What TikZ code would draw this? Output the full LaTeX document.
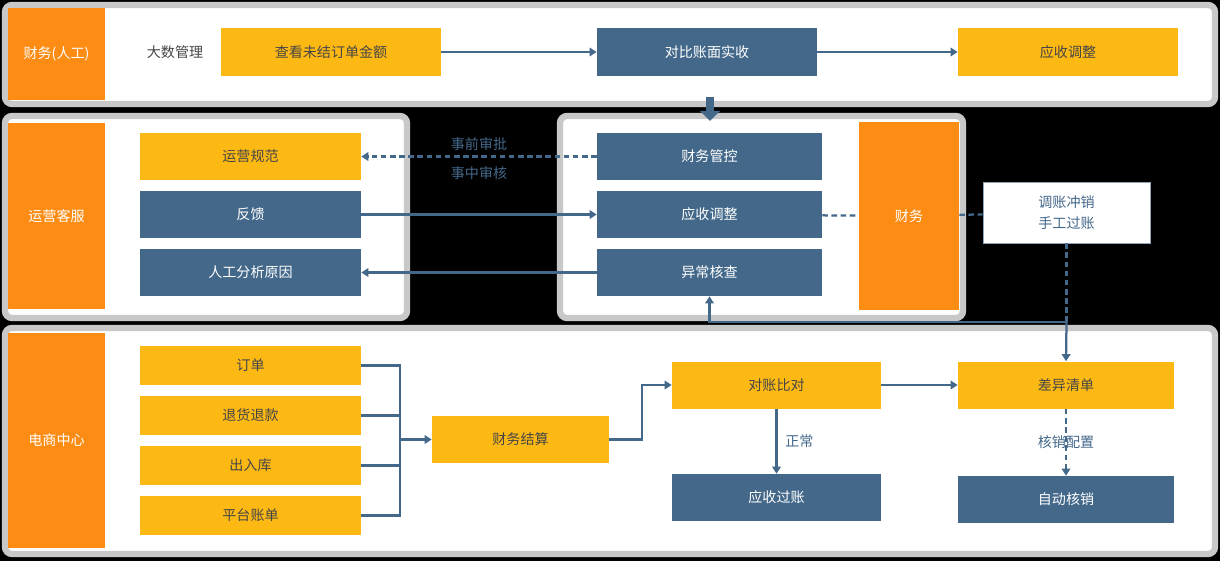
\documentclass[tikz,border=0pt]{standalone}
\usepackage{fontspec}
\setmainfont{Noto Sans CJK SC}
\usetikzlibrary{arrows.meta,calc}
\definecolor{cOra}{RGB}{253,140,20}
\definecolor{cYel}{RGB}{253,185,19}
\definecolor{cBlu}{RGB}{67,104,138}
\definecolor{cTxt}{RGB}{70,70,70}
\definecolor{cRim}{RGB}{200,200,200}

\begin{document}
\begin{tikzpicture}[x=0.025cm,y=-0.025cm,font=\fontsize{10}{15}\selectfont,
  panel/.style={draw=cRim,line width=4.5pt,fill=white,rounded corners=5pt},
  side/.style={fill=cOra,text=white,inner sep=0pt,minimum width=2.425cm},
  ybox/.style={fill=cYel,text=cTxt,inner sep=0pt,minimum width=5.525cm,minimum height=1.175cm},
  bbox/.style={fill=cBlu,text=white,inner sep=0pt,minimum width=5.525cm,minimum height=1.175cm},
  line/.style={cBlu,line width=1.6pt},
  flow/.style={line,-{Triangle[length=5pt,width=6pt]}},
  dline/.style={line,dash pattern=on 4pt off 2.5pt},
  dflow/.style={flow,dash pattern=on 4pt off 2.5pt},
  fat/.style={cBlu,line width=5pt,-{Triangle[length=7pt,width=14pt]}},
  lab/.style={text=cBlu,inner sep=1.5pt}]

\fill[black] (0,0) rectangle (1220,561);

% Finance (manual)
\draw[panel] (5,5) rectangle (1215,104);
\node[side,minimum height=2.3cm] (fin) at (56.5,54) {财务(人工)};
\node[text=cTxt] (dsg) at (175,52) {大数管理};
\node[ybox,minimum width=5.5cm] (ck) at (331,52) {查看未结订单金额};
\node[bbox,minimum width=5.5cm] (db) at (707,52) {对比账面实收};
\node[ybox,minimum width=5.5cm] (ys) at (1068,52) {应收调整};
\draw[flow] (ck) -- (db);
\draw[flow] (db) -- (ys);

% Operations / customer service
\draw[panel] (5,116) rectangle (407,318);
\node[side,minimum height=4.65cm] (ops) at (56.5,216) {运营客服};
\node[ybox] (gf) at (250.5,156.5) {运营规范};
\node[bbox] (fk) at (250.5,214.5) {反馈};
\node[bbox] (rg) at (250.5,272.5) {人工分析原因};

% Finance control
\draw[panel] (560,116) rectangle (963,318);
\node[bbox,minimum width=5.625cm] (gk) at (709.5,156.5) {财务管控};
\node[bbox,minimum width=5.625cm] (ts) at (709.5,214.5) {应收调整};
\node[bbox,minimum width=5.625cm] (yc) at (709.5,272.5) {异常核查};
\node[side,minimum width=2.5cm,minimum height=4.7cm] (cw) at (909,216) {财务};
\node[draw=cBlu!60,fill=white,text=cBlu,align=center,inner sep=0pt,minimum width=4.175cm,minimum height=1.525cm] (tz) at (1066.5,212.5) {调账冲销\\手工过账};

\draw[fat] ($(db.south)+(3,21)$) -- ++(0,24);
\draw[dflow] (gk) -- node[lab,above=2pt]{事前审批} node[lab,below=5pt]{事中审核} (gf);
\draw[flow] (fk) -- (ts);
\draw[flow] (yc) -- (rg);
\draw[dline] (ts) -- (cw);
\draw[dline] (cw) -- (tz);

% E-commerce center
\draw[panel] (5,328) rectangle (1215,554);
\node[side,minimum height=5.375cm] (ec) at (56.5,440.5) {电商中心};
\node[ybox,minimum height=0.975cm] (dd) at (250.5,365.5) {订单};
\node[ybox,minimum height=0.975cm] (th) at (250.5,415.5) {退货退款};
\node[ybox,minimum height=0.975cm] (cr) at (250.5,465.5) {出入库};
\node[ybox,minimum height=0.975cm] (pt) at (250.5,515.5) {平台账单};
\node[ybox,minimum width=4.425cm] (js) at (520.5,439.5) {财务结算};
\node[ybox,minimum width=5.225cm] (dz) at (776.5,385) {对账比对};
\node[bbox,minimum width=5.225cm] (gz) at (776.5,497.5) {应收过账};
\node[ybox,minimum width=5.4cm] (cy) at (1066,385) {差异清单};
\node[bbox,minimum width=5.4cm] (zd) at (1066,499.5) {自动核销};

\coordinate (bus) at (400,439.5);
\coordinate (jn) at (tz.south |- 0,322);
\draw[line] (dd.east) -- (dd.east -| bus) -- (pt.east -| bus) -- (pt.east);
\draw[line] (th.east) -- (th.east -| bus);
\draw[line] (cr.east) -- (cr.east -| bus);
\draw[flow] (bus) -- (js.west);
\draw[flow] (js.east) -- ++(33,0) |- (dz.west);
\draw[flow] (dz) -- (cy);
\draw[flow] (dz) -- node[lab,right=4pt]{正常} (gz);
\node[lab] (hx) at ($(cy)!0.5!(zd)$) {核销配置};
\draw[dflow] (cy) -- (zd);
\draw[dline] (tz.south) -- (jn);
\draw[flow] (jn) -| (yc.south);
\draw[flow] (jn) -- (cy.north);
\end{tikzpicture}
\end{document}
